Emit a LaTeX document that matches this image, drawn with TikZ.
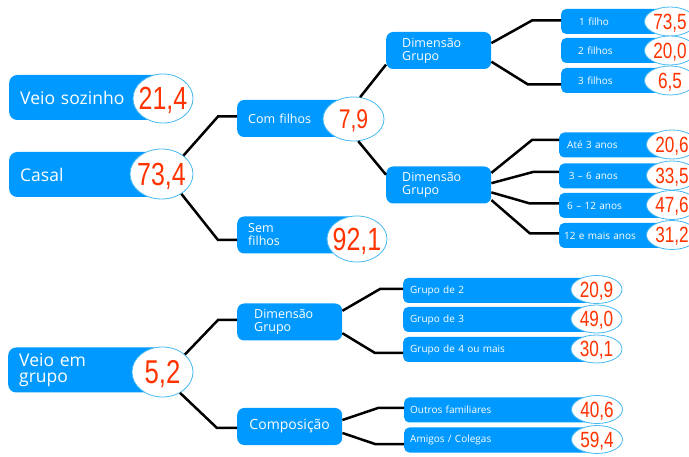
\documentclass[tikz,border=0pt]{standalone}
\usepackage{fontspec}
\setmainfont{Open Sans}
\newfontfamily\numfont[FakeStretch=0.78]{Liberation Sans}
\usetikzlibrary{shapes.geometric}
\definecolor{boxblue}{RGB}{0,153,255}
\definecolor{numred}{RGB}{255,51,0}
\definecolor{rimblue}{RGB}{70,185,240}
\newcommand{\numb}[2]{\makebox[0pt]{\numfont\fontsize{#1}{#1}\selectfont\raisebox{-0.358em}{#2}}}
\tikzset{
  bigbox/.style={fill=boxblue, text=white, rounded corners=8pt, anchor=west, align=left,
    inner xsep=11pt, inner ysep=0pt, minimum height=45pt, font=\fontsize{17.5}{16}\selectfont},
  midbox/.style={fill=boxblue, text=white, rounded corners=7pt, anchor=west, align=left,
    inner xsep=11pt, inner ysep=0pt, minimum height=37pt, font=\fontsize{12.5}{13}\selectfont},
  smallbox/.style={fill=boxblue, text=white, rounded corners=5pt, anchor=west, align=left,
    inner ysep=0pt, minimum height=25pt, font=\fontsize{10}{12}\selectfont},
  num/.style={ellipse, draw=rimblue, line width=0.8pt, fill=white, text=numred,
    inner sep=0pt, text height=0pt, text depth=0pt},
  link/.style={black, line width=2.5pt},
}
\begin{document}
\begin{tikzpicture}[x=1pt, y=-1pt]
  \useasboundingbox (0,0) rectangle (689,457);

  % left column
  \node[bigbox, text width=131pt] (vs) at (9,97.5) {Veio sozinho};
  \node[num, minimum width=60pt, minimum height=49pt] (vsn) at (163,98.5) {\numb{32}{21,4}};
  \node[bigbox, text width=131pt] (ca) at (9,174.5) {Casal};
  \node[num, minimum width=63pt, minimum height=50pt] (can) at (161.5,174) {\numb{32}{73,4}};
  \node[bigbox, text width=131pt] (vg) at (8,370) {Veio em\\grupo};
  \node[num, minimum width=61pt, minimum height=50pt] (vgn) at (162.5,372) {\numb{33}{5,2}};

  % middle column
  \node[midbox, text width=95pt] (cf) at (237,118.5) {Com filhos};
  \node[num, minimum width=61pt, minimum height=44pt] (cfn) at (353.5,119) {\numb{27}{7,9}};
  \node[midbox, text width=98pt] (sf) at (237,235) {Sem\\filhos};
  \node[num, minimum width=60pt, minimum height=46pt] (sfn) at (357,239) {\numb{32}{92,1}};
  \node[midbox, inner xsep=16pt, text width=73pt] (dg1) at (386,50.5) {Dimensão\\Grupo};
  \node[midbox, inner xsep=16pt, text width=73pt] (dg2) at (386,185) {Dimensão\\Grupo};
  \node[midbox, inner xsep=17pt, text width=71pt] (dg3) at (237,322) {Dimensão\\Grupo};
  \node[midbox, text width=83pt, align=center, font=\fontsize{14}{14}\selectfont] (co) at (237,426.5) {Composição};

  % right column
  \node[smallbox, inner xsep=18pt, text width=73pt] (f1) at (561,21.5) {1 filho};
  \node[num, minimum width=51pt, minimum height=29pt] (f1n) at (670,21.5) {\numb{22}{73,5}};
  \node[smallbox, inner xsep=17pt, text width=75pt] (f2) at (561,50.5) {2 filhos};
  \node[num, minimum width=51pt, minimum height=29pt] (f2n) at (670,50.5) {\numb{22}{20,0}};
  \node[smallbox, inner xsep=17pt, text width=75pt] (f3) at (561,80.5) {3 filhos};
  \node[num, minimum width=51pt, minimum height=29pt] (f3n) at (670,80.5) {\numb{22}{6,5}};

  \node[smallbox, inner xsep=8pt, text width=97pt] (a1) at (559,145) {Até 3 anos};
  \node[num, minimum width=51pt, minimum height=29pt] (a1n) at (672,144.5) {\numb{22}{20,6}};
  \node[smallbox, inner xsep=8pt, text width=97pt] (a2) at (559,176) {\,3 -- 6 anos};
  \node[num, minimum width=51pt, minimum height=29pt] (a2n) at (672,175.5) {\numb{22}{33,5}};
  \node[smallbox, inner xsep=8pt, text width=97pt] (a3) at (559,205.5) {6 -- 12 anos};
  \node[num, minimum width=51pt, minimum height=29pt] (a3n) at (672,205) {\numb{22}{47,6}};
  \node[smallbox, inner xsep=5pt, text width=103pt] (a4) at (559,235.5) {12 e mais anos};
  \node[num, minimum width=51pt, minimum height=29pt] (a4n) at (672,235) {\numb{22}{31,2}};

  \node[smallbox, inner xsep=7pt, text width=180pt] (g2) at (403,290.5) {Grupo de 2};
  \node[num, minimum width=51pt, minimum height=28pt] (g2n) at (596.5,289.5) {\numb{22}{20,9}};
  \node[smallbox, inner xsep=7pt, text width=180pt] (g3) at (403,319.5) {Grupo de 3};
  \node[num, minimum width=51pt, minimum height=28pt] (g3n) at (596.5,319) {\numb{22}{49,0}};
  \node[smallbox, inner xsep=7pt, text width=180pt] (g4) at (403,349.5) {Grupo de 4 ou mais};
  \node[num, minimum width=51pt, minimum height=28pt] (g4n) at (596.5,349) {\numb{22}{30,1}};
  \node[smallbox, inner xsep=6pt, text width=181pt] (of) at (404,410) {Outros familiares};
  \node[num, minimum width=51pt, minimum height=28pt] (ofn) at (597,409.5) {\numb{22}{40,6}};
  \node[smallbox, inner xsep=6pt, text width=181pt] (am) at (404,440) {Amigos / Colegas};
  \node[num, minimum width=51pt, minimum height=28pt] (amn) at (597,439.5) {\numb{22}{59,4}};

  % draw edges
  \draw[link] (can.40) -- ([xshift=-19pt,yshift=2pt]cf.west) -- ([yshift=2pt]cf.west);
  \draw[link] (can.-45) -- ([xshift=-19pt,yshift=-5pt]sf.west) -- ([yshift=-5pt]sf.west);
  \draw[link] (cfn.73) -- (dg1.195);
  \draw[link] (cfn.-78) -- (dg2.169);

  \draw[link] (dg1.8) -- ([xshift=-29pt,yshift=1pt]f1.west) -- ([yshift=1pt]f1.west);
  \draw[link] (dg1.-12) -- ([xshift=-33pt,yshift=-4pt]f3.west) -- ([yshift=-4pt]f3.west);

  \draw[link] (dg2.13) -- ([xshift=-27pt,yshift=5pt]a1.west) -- ([yshift=5pt]a1.west);
  \draw[link] (dg2.2) -- ([xshift=-26pt,yshift=4pt]a2.west) -- ([yshift=4pt]a2.west);
  \draw[link] (dg2.-8) -- ([xshift=-29pt,yshift=2pt]a3.west) -- ([yshift=2pt]a3.west);
  \draw[link] (dg2.-16) -- ([xshift=-29pt,yshift=2pt]a4.west) -- ([yshift=2pt]a4.west);

  \draw[link] (vgn.38) -- ([xshift=-19pt,yshift=2pt]dg3.west) -- ([yshift=2pt]dg3.west);
  \draw[link] (vgn.-50) -- ([xshift=-20pt,yshift=-1.5pt]co.west) -- ([yshift=-1.5pt]co.west);

  \draw[link] (dg3.12) -- ([xshift=-23pt,yshift=1.5pt]g2.west) -- ([yshift=1.5pt]g2.west);
  \draw[link] (dg3.-12) -- ([xshift=-28pt,yshift=-3.5pt]g4.west) -- ([yshift=-3.5pt]g4.west);
  \draw[link] (co.7) -- ([xshift=-26pt,yshift=2pt]of.west) -- ([yshift=2pt]of.west);
  \draw[link] (co.-7) -- ([xshift=-29pt,yshift=-4pt]am.west) -- ([yshift=-4pt]am.west);
\end{tikzpicture}
\end{document}
